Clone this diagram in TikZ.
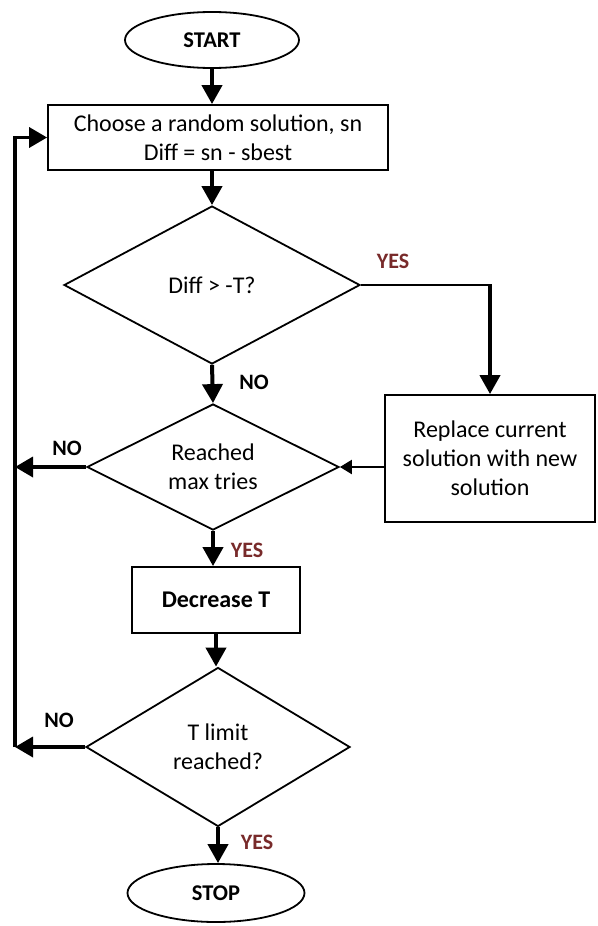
\documentclass[tikz,border=0pt]{standalone}
\usepackage{fontspec}
\setmainfont{Carlito}
\usetikzlibrary{shapes.geometric,arrows.meta,calc}
\definecolor{yesred}{RGB}{120,42,42}
\tikzset{
  every node/.style={font=\fontsize{24}{29}\selectfont},
  term/.style={ellipse,draw,line width=1.8pt,inner sep=0pt,font=\fontsize{22.5}{28}\selectfont\bfseries},
  proc/.style={rectangle,draw,line width=1.8pt,inner sep=0pt,align=center},
  dec/.style={diamond,draw,line width=1.8pt,inner sep=0pt,aspect=2,align=center},
  flow/.style={line width=4pt,-{Triangle[width=20pt,length=19pt]}},
  thinflow/.style={line width=2.2pt,-{Triangle[width=14pt,length=12pt]}},
  backflow/.style={line width=3.5pt,-{Triangle[width=20pt,length=18pt]}},
  lbl/.style={font=\fontsize{22}{26}\selectfont\bfseries},
  yes/.style={lbl,text=yesred},
}
\begin{document}
\begin{tikzpicture}[x=1pt,y=-1pt]
\useasboundingbox (0,0) rectangle (597,926);
\node[term,minimum width=174pt,minimum height=56pt] (start) at (212,40) {START};
\node[proc,minimum width=340pt,minimum height=65pt] (b1) at (218,137.5) {Choose a random solution, sn\\Diff = sn - sbest};
\node[dec,minimum width=296pt,minimum height=158pt] (d1) at (212,285) {Diff > -T?};
\node[proc,minimum width=210pt,minimum height=127pt] (b2) at (490,458.5) {Replace current\\solution with new\\solution};
\node[dec,minimum width=252pt,minimum height=126pt] (d2) at (213,467) {Reached\\max tries};
\node[proc,minimum width=168pt,minimum height=66pt] (b3) at (216,600) {\bfseries Decrease T};
\node[dec,minimum width=264pt,minimum height=159pt] (d3) at (218,747) {T limit\\reached?};
\node[term,minimum width=177pt,minimum height=58pt] (stop) at (216,893) {STOP};

\node[yes] (y1) at (393,261) {YES};
\node[lbl] (n1) at (254,382) {NO};
\node[lbl] (n2) at (67,448) {NO};
\node[yes] (y2) at (247,550) {YES};
\node[lbl] (n3) at (59,720) {NO};
\node[yes] (y3) at (257,842) {YES};

\coordinate (lx) at (15,0);
\coordinate (L1) at (lx |- b1.west);
\coordinate (L2) at (lx |- d2.west);
\coordinate (L3) at (lx |- d3.west);
\coordinate (yc) at (d1.east -| b2.north);

\draw[flow] (start.south) -- (start.south |- b1.north);
\draw[flow] (b1.south -| d1.north) -- (d1.north);
\draw[flow] (d1.south) -- (d2.north);
\draw[line width=2pt] (d1.east) -- ([xshift=2pt]yc);
\draw[flow] ([yshift=-1pt]yc) -- (b2.north);
\draw[thinflow] (b2.west |- d2.east) -- (d2.east);
\draw[flow] (d2.south) -- (d2.south |- b3.north);
\draw[flow] (b3.south) -- (b3.south |- d3.north);
\draw[flow] (d3.south) -- (d3.south |- stop.north);
\draw[backflow] (d2.west) -- (L2);
\draw[backflow] (d3.west) -- (L3);
\draw[backflow] (L3) -- (L1) -- (b1.west);
\end{tikzpicture}
\end{document}
